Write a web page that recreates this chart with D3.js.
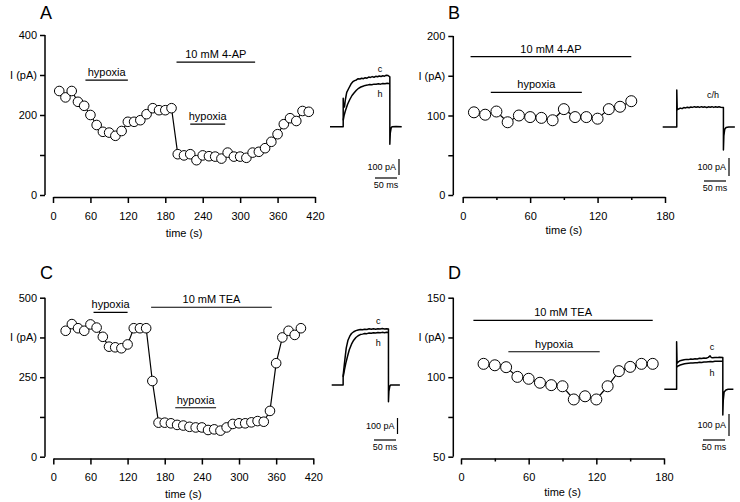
<!DOCTYPE html>
<html><head><meta charset="utf-8">
<script src="https://cdn.jsdelivr.net/npm/d3@7"></script>
<style>
html,body{margin:0;padding:0;background:#fff;}
svg{display:block;font-family:"Liberation Sans",Arial,sans-serif;}
</style></head>
<body><svg id="chart" width="740" height="502"></svg>
<script>
// ---------------- DATA ----------------
const timeA = d3.range(10, 420, 10);
const currentA = [260,244,260,233,223,200,175,158,156,148,160,183,183,187,202,217,212,212,217,
  102,99,102,87,99,97,96,91,106,96,96,93,106,108,117,133,152,177,192,185,210,208];
const timeB = d3.range(10, 160, 10);
const currentB = [104,101,105,91.5,100,98,97,94,108,98,98,96,108,111,118];
const timeC = d3.range(20, 410, 10);
const currentC = [396,417,404,396,416,406,377,346,344,341,353,404,404,404,238,107,107,105,100,98,
  94,92,92,84,86,82,92,103,105,105,108,112,110,144,294,375,396,383,404];
const timeD = d3.range(20, 180, 10);
const currentD = [108.4,107.5,106.3,100.2,99,96.5,95,94.3,86,88,86,94.3,103.8,106.5,108.4,108.4];

const yTicksA = [0,100,200,300,400], yLabelsA = [0,200,400];
const yTicksB = [0,50,100,150,200], yLabelsB = [0,100,200];
const yTicksC = [0,125,250,375,500], yLabelsC = [0,250,500];
const yTicksD = [50,75,100,125,150], yLabelsD = [50,100,150];
const xTicksLong = d3.range(0, 421, 60);
const xTicksShort = [0,60,120,180], xMinorShort = [30,90,150];

// treatment bars: [label, start s, end s, level (pA)]
const barsA = [["hypoxia",52,120,287],["10 mM 4-AP",198,324,332],["hypoxia",220,276,177]];
const barsB = [["10 mM 4-AP",7,150,174],["hypoxia",25,106,129]];
const barsC = [["hypoxia",65,120,454],["10 mM TEA",158,353,470],["hypoxia",197,263,154]];
const barsD = [["10 mM TEA",11,170,135.7],["hypoxia",42,123,116]];

// example current traces [ms, pA]
const traceA_c = [[0,0],[30,0],[30,178],[31,120],[33,125],[35,170],[38,215],[43,242],[48,268],[52,281],[56,288],[60,292],[64,300],[68,298],[72,303],[76,300],[80,306],[84,303],[88,310],[92,308],[96,313],[100,309],[104,315],[108,312],[112,317],[116,314],[120,318],[124,316],[128,322],[132,320],[136,312],[136,-110],[137,-40],[139,-8],[141,0],[150,2],[163,0]];
const traceA_h = [[30,40],[32,70],[35,100],[40,140],[45,170],[50,195],[55,212],[60,228],[65,240],[70,248],[75,253],[80,258],[85,260],[90,264],[95,262],[100,266],[105,265],[110,268],[115,266],[120,270],[125,268],[130,271],[136,268]];
const traceB = [[0,0],[32,0],[32,206],[33,95],[36,100],[40,105],[44,102],[48,108],[52,106],[56,110],[60,107],[64,111],[68,109],[72,113],[76,110],[80,112],[84,109],[88,113],[92,110],[96,112],[100,108],[104,112],[108,110],[112,113],[116,109],[120,112],[124,110],[128,112],[132,110],[138,108],[138,-128],[139,-50],[141,-12],[144,-3],[150,0],[164,0]];
const traceC_c = [[0,0],[26,0],[26,60],[28,110],[30,160],[33,230],[37,280],[41,305],[45,322],[50,333],[55,340],[60,344],[65,347],[70,345],[75,349],[80,347],[85,351],[90,348],[95,352],[100,349],[105,352],[110,350],[115,353],[120,350],[125,352],[129,350],[129,-104],[130,-40],[132,-8],[134,0],[155,0]];
const traceC_h = [[26,50],[29,95],[32,135],[36,180],[40,220],[45,255],[50,280],[55,297],[60,308],[65,315],[70,318],[75,322],[80,321],[85,325],[90,323],[95,327],[100,325],[105,328],[110,326],[115,329],[120,327],[125,330],[129,328]];
const traceD_c = [[0,0],[28,0],[28,216],[29,118],[32,125],[36,130],[40,132],[45,134],[50,136],[55,135],[60,138],[65,137],[70,139],[75,138],[80,141],[85,140],[90,142],[95,141],[100,145],[104,152],[107,144],[110,143],[115,145],[120,144],[125,146],[133,145],[133,-117],[134,-50],[136,-12],[140,-3],[145,0],[157,0]];
const traceD_h = [[28,100],[30,105],[34,108],[38,112],[42,114],[46,116],[50,117],[55,118],[60,119],[65,120],[70,121],[75,121],[80,123],[85,122],[90,124],[95,124],[100,125],[105,126],[110,125],[115,127],[120,127],[125,128],[133,128]];

// ---------------- DRAW ----------------
const svg = d3.select("#chart");
const FONT = 11;

function panel(cfg) {
  const g = svg.append("g");
  const x = d3.scaleLinear().domain(cfg.xDomain).range(cfg.xRange);
  const y = d3.scaleLinear().domain(cfg.yDomain).range(cfg.yRange);

  // panel letter
  g.append("text").attr("x", cfg.letterPos[0]).attr("y", cfg.letterPos[1])
    .attr("font-size", 18).text(cfg.letter);

  // y axis
  const ya = g.append("g").attr("transform", `translate(${cfg.yAxisX},0)`)
    .call(d3.axisLeft(y).tickValues(cfg.yTicks).tickSize(5).tickPadding(3)
      .tickFormat(d => cfg.yLabels.includes(d) ? d : ""));
  ya.select(".domain").attr("stroke-width", 1.5).attr("d", `M0,${cfg.yRange[0]}V${cfg.yRange[1]}`);
  ya.selectAll(".tick line").attr("stroke-width", 1.5);
  ya.selectAll("text").attr("font-size", FONT).attr("font-family", "Liberation Sans, Arial, sans-serif");

  // y label
  g.append("text").attr("x", cfg.yAxisX - 8).attr("y", y(cfg.yTicks[3]) + 4)
    .attr("text-anchor", "end").attr("font-size", FONT).text("I (pA)");

  // x axis (outward ticks)
  const xa = g.append("g").attr("transform", `translate(0,${cfg.xAxisY})`)
    .call(d3.axisBottom(x).tickValues(cfg.xTicks).tickSizeInner(6).tickSizeOuter(0).tickPadding(9)
      .tickFormat(d => d));
  xa.select(".domain").attr("stroke-width", 1.5);
  xa.selectAll(".tick line").attr("stroke-width", 1.5);
  xa.selectAll("text").attr("font-size", FONT).attr("font-family", "Liberation Sans, Arial, sans-serif");
  if (cfg.xMinor) {
    const xm = g.append("g").attr("transform", `translate(0,${cfg.xAxisY})`)
      .call(d3.axisBottom(x).tickValues(cfg.xMinor).tickSizeInner(3).tickSizeOuter(0).tickFormat(""));
    xm.select(".domain").remove();
    xm.selectAll(".tick line").attr("stroke-width", 1.5);
  }

  g.append("text").attr("x", (cfg.xRange[0] + cfg.xRange[1]) / 2).attr("y", cfg.xTitleY)
    .attr("text-anchor", "middle").attr("font-size", FONT).text("time (s)");

  // treatment bars
  cfg.bars.forEach(b => {
    g.append("line").attr("x1", x(b[1])).attr("x2", x(b[2]))
      .attr("y1", y(b[3])).attr("y2", y(b[3])).attr("stroke", "#000").attr("stroke-width", 1.2);
    g.append("text").attr("x", (x(b[1]) + x(b[2])) / 2).attr("y", y(b[3]) - 4)
      .attr("text-anchor", "middle").attr("font-size", FONT).text(b[0]);
  });

  // data line + circles
  const pts = cfg.time.map((t, i) => [t, cfg.current[i]]);
  g.append("path").datum(pts)
    .attr("d", d3.line().x(d => x(d[0])).y(d => y(d[1])))
    .attr("fill", "none").attr("stroke", "#000").attr("stroke-width", 1.2);
  g.selectAll("circle.pt").data(pts).join("circle")
    .attr("cx", d => x(d[0])).attr("cy", d => y(d[1])).attr("r", cfg.r)
    .attr("fill", "#fff").attr("stroke", "#000").attr("stroke-width", 1);

  // inset trace
  const ins = cfg.inset;
  const tx = d3.scaleLinear().domain([0, 50]).range([ins.x0, ins.x0 + 22]);
  const ty = d3.scaleLinear().domain([0, 100]).range([ins.y0, ins.y0 - ins.pa100]);
  const tl = d3.line().x(d => tx(d[0])).y(d => ty(d[1]));
  ins.traces.forEach(tr => {
    g.append("path").datum(tr).attr("d", tl).attr("fill", "none")
      .attr("stroke", "#000").attr("stroke-width", 1.5).attr("stroke-linejoin", "round");
  });
  ins.labels.forEach(l => {
    g.append("text").attr("x", l[1]).attr("y", l[2]).attr("text-anchor", "middle")
      .attr("font-size", 9).text(l[0]);
  });
  // scale bars
  const sb = ins.scale;
  g.append("line").attr("x1", sb.vx).attr("x2", sb.vx).attr("y1", sb.vy).attr("y2", sb.vy + ins.pa100)
    .attr("stroke", "#000").attr("stroke-width", 1.2);
  g.append("text").attr("x", sb.vx - 3).attr("y", sb.vy + ins.pa100 / 2 + 3).attr("text-anchor", "end")
    .attr("font-size", 9).text("100 pA");
  g.append("line").attr("x1", sb.hx).attr("x2", sb.hx + (tx(50) - tx(0))).attr("y1", sb.hy).attr("y2", sb.hy)
    .attr("stroke", "#000").attr("stroke-width", 1.2);
  g.append("text").attr("x", sb.hx + 11).attr("y", sb.hy + 10).attr("text-anchor", "middle")
    .attr("font-size", 9).text("50 ms");
}

panel({
  letter: "A", letterPos: [40, 19],
  xDomain: [0, 420], xRange: [53, 315], yDomain: [0, 400], yRange: [195, 35],
  yAxisX: 45, xAxisY: 197, xTitleY: 237,
  yTicks: yTicksA, yLabels: yLabelsA, xTicks: xTicksLong,
  bars: barsA, time: timeA, current: currentA, r: 4.8,
  inset: { x0: 330, y0: 126.7, pa100: 16, traces: [traceA_c, traceA_h],
    labels: [["c", 380, 72], ["h", 380, 97]],
    scale: { vx: 399, vy: 159, hx: 375, hy: 178 } }
});
panel({
  letter: "B", letterPos: [448, 19],
  xDomain: [0, 180], xRange: [462.7, 665], yDomain: [0, 200], yRange: [195, 36],
  yAxisX: 453.3, xAxisY: 197, xTitleY: 234,
  yTicks: yTicksB, yLabels: yLabelsB, xTicks: xTicksShort, xMinor: xMinorShort,
  bars: barsB, time: timeB, current: currentB, r: 5.5,
  inset: { x0: 662.7, y0: 127, pa100: 18, traces: [traceB],
    labels: [["c/h", 713, 98]],
    scale: { vx: 729, vy: 158, hx: 704, hy: 181 } }
});
panel({
  letter: "C", letterPos: [40, 279],
  xDomain: [0, 420], xRange: [53.3, 313.3], yDomain: [0, 500], yRange: [456.7, 297.7],
  yAxisX: 45, xAxisY: 458.5, xTitleY: 498,
  yTicks: yTicksC, yLabels: yLabelsC, xTicks: xTicksLong,
  bars: barsC, time: timeC, current: currentC, r: 4.8,
  inset: { x0: 331.7, y0: 385, pa100: 16, traces: [traceC_c, traceC_h],
    labels: [["c", 378.3, 324], ["h", 378.3, 346]],
    scale: { vx: 397.5, vy: 418, hx: 374, hy: 440 } }
});
panel({
  letter: "D", letterPos: [448, 279],
  xDomain: [0, 180], xRange: [461, 664], yDomain: [50, 150], yRange: [456.7, 297.7],
  yAxisX: 453.3, xAxisY: 458.5, xTitleY: 496,
  yTicks: yTicksD, yLabels: yLabelsD, xTicks: xTicksShort, xMinor: xMinorShort,
  bars: barsD, time: timeD, current: currentD, r: 5.5,
  inset: { x0: 664.3, y0: 389.3, pa100: 22, traces: [traceD_c, traceD_h],
    labels: [["c", 712, 350], ["h", 712, 376]],
    scale: { vx: 729, vy: 414, hx: 703, hy: 440 } }
});
</script></body></html>
